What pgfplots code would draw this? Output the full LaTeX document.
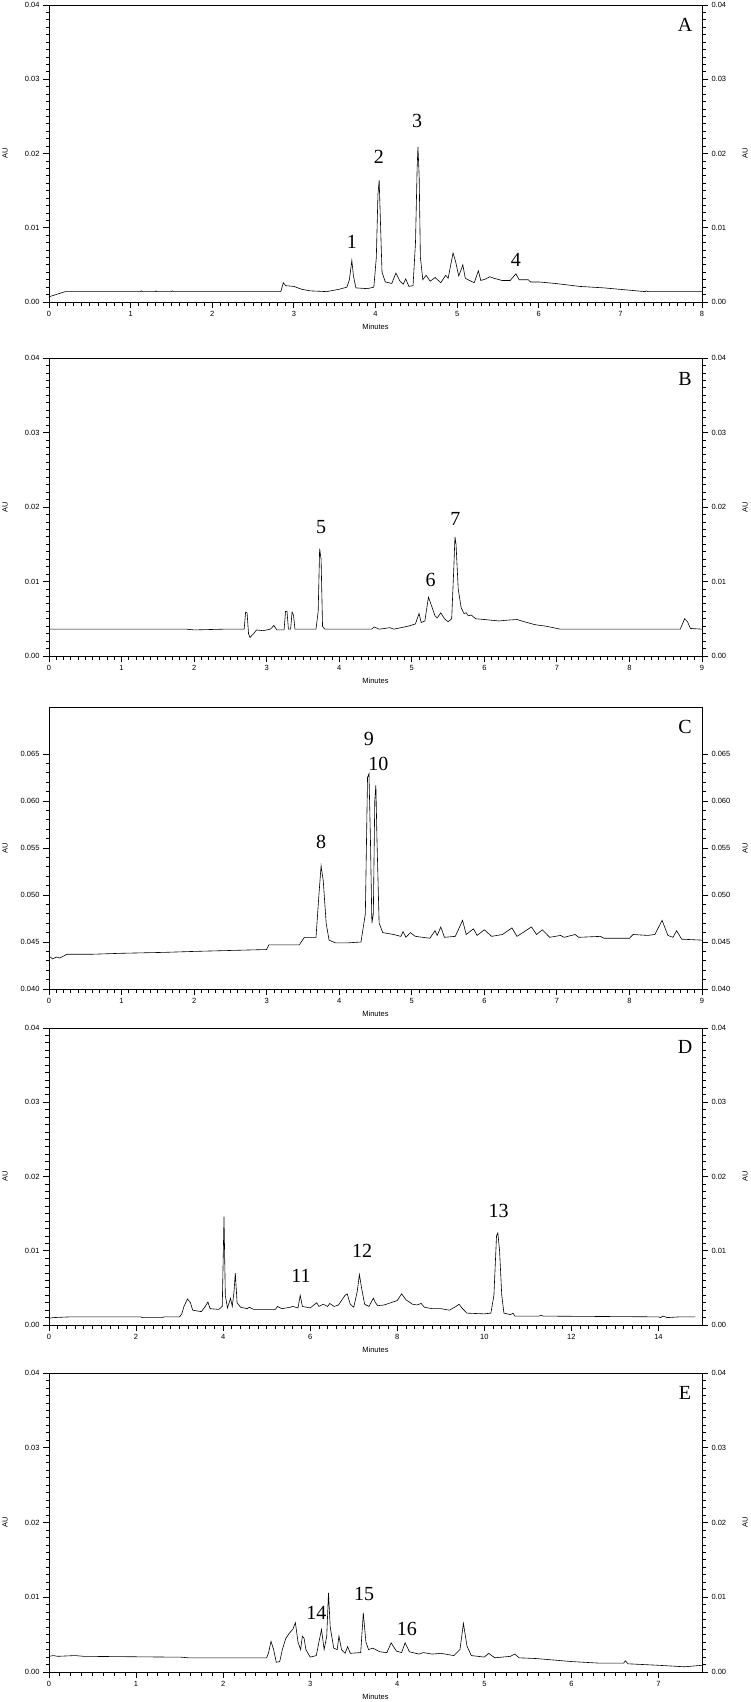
\documentclass[border=0pt]{standalone}
\usepackage{fontspec}
\setmainfont{Liberation Serif}
\setsansfont{Liberation Sans}
\usepackage{pgfplots}
\pgfplotsset{compat=1.18}

\newcommand{\tickfont}{\sffamily\fontsize{7.5}{8}\selectfont}
\newcommand{\peakfont}{\rmfamily\fontsize{20}{22}\selectfont}

\pgfplotsset{
  chrom/.style={
    scale only axis, width=653pt, anchor=north west,
    xmin=0, scaled ticks=false, clip=false,
    axis line style={line width=0.9pt},
    tick align=outside, major tick length=6pt, minor tick length=3.5pt,
    every tick/.style={black, line width=0.8pt},
    tick label style={font=\tickfont},
    /pgf/number format/assume math mode=true,
    yticklabel style={/pgf/number format/.cd, fixed, fixed zerofill, precision=2},
    label style={font=\tickfont},
  },
  leftside/.style={
    xtick pos=left, ytick pos=left,
    xlabel=Minutes, ylabel=AU,
    xlabel style={at={(axis description cs:0.5,0)}, anchor=center, yshift=-25pt},
    ylabel style={at={(axis description cs:-0.0674,0.5)}, anchor=center},
  },
  rightside/.style={
    axis x line=none, axis y line*=right, ytick pos=right,
    yticklabel pos=right, ylabel=AU,
    ylabel style={at={(axis description cs:1.066,0.5)}, anchor=center},
  },
  trace/.style={black, line width=0.6pt, no marks},
}

\begin{document}
\begin{tikzpicture}
\useasboundingbox (0,0) rectangle (750pt,-1702pt);

% ---------------- A ----------------
\begin{axis}[chrom, leftside, at={(49pt,-5pt)}, height=297pt,
  xmax=8, ymin=0, ymax=0.04, xtick={0,...,8}, minor x tick num=9,
  ytick={0,0.01,0.02,0.03,0.04}, minor y tick num=9]
\addplot[trace] table {
0 0.0007
0.2 0.0014
1.12 0.0014
1.13 0.0015
1.14 0.0014
1.3 0.0014
1.31 0.0015
1.32 0.0014
1.5 0.0014
1.51 0.0015
1.52 0.0014
2.84 0.0014
2.87 0.0026
2.9 0.0022
3.0 0.0021
3.1 0.0017
3.2 0.0015
3.4 0.0014
3.55 0.0017
3.65 0.0020
3.68 0.0030
3.71 0.0056
3.73 0.0035
3.76 0.0019
3.9 0.0018
3.98 0.0020
4.01 0.0060
4.03 0.0145
4.045 0.0164
4.06 0.0110
4.08 0.0040
4.12 0.0027
4.2 0.0025
4.25 0.0039
4.3 0.0028
4.34 0.0024
4.37 0.0031
4.41 0.0021
4.46 0.0022
4.49 0.0080
4.51 0.0180
4.52 0.0209
4.535 0.0170
4.55 0.0060
4.58 0.0030
4.62 0.0036
4.67 0.0028
4.73 0.0033
4.8 0.0026
4.86 0.0036
4.89 0.0032
4.95 0.0066
4.98 0.0055
5.02 0.0035
5.07 0.0050
5.1 0.0032
5.17 0.0028
5.21 0.0026
5.26 0.0042
5.29 0.0029
5.35 0.0031
5.4 0.0034
5.45 0.0032
5.55 0.0029
5.65 0.0029
5.72 0.0038
5.76 0.0030
5.87 0.0030
5.9 0.0027
6.0 0.0027
6.2 0.0025
6.5 0.0021
6.8 0.0019
7.0 0.0017
7.3 0.0014
7.32 0.0015
7.34 0.0014
8.0 0.0014
};
\node[font=\peakfont] at (axis cs:3.71,0.0081) {1};
\node[font=\peakfont] at (axis cs:4.04,0.0196) {2};
\node[font=\peakfont] at (axis cs:4.51,0.0244) {3};
\node[font=\peakfont] at (axis cs:5.72,0.0057) {4};
\node[font=\peakfont] at (rel axis cs:0.974,1) [yshift=-20pt] {A};
\end{axis}
\begin{axis}[chrom, rightside, at={(49pt,-5pt)}, height=297pt,
  xmax=8, ymin=0, ymax=0.04,
  ytick={0,0.01,0.02,0.03,0.04}, minor y tick num=9]
\end{axis}

% ---------------- B ----------------
\begin{axis}[chrom, leftside, at={(49pt,-358pt)}, height=298pt,
  xmax=9, ymin=0, ymax=0.04, xtick={0,...,9}, minor x tick num=9,
  ytick={0,0.01,0.02,0.03,0.04}, minor y tick num=9]
\addplot[trace] table {
0 0.0036
0.2 0.0036
1.9 0.0036
2.0 0.0035
2.4 0.0036
2.69 0.0036
2.71 0.0059
2.73 0.0058
2.75 0.0030
2.77 0.0025
2.82 0.0030
2.86 0.0035
2.95 0.0034
3.05 0.0036
3.1 0.0041
3.14 0.0035
3.24 0.0035
3.26 0.0060
3.28 0.0060
3.30 0.0036
3.33 0.0036
3.35 0.0059
3.37 0.0055
3.39 0.0036
3.68 0.0036
3.71 0.0060
3.73 0.0144
3.75 0.0130
3.77 0.0040
3.8 0.0036
4.45 0.0036
4.48 0.0039
4.55 0.0036
4.7 0.0038
4.75 0.0036
4.95 0.0040
5.05 0.0043
5.1 0.0057
5.13 0.0045
5.18 0.0047
5.23 0.0079
5.27 0.0068
5.32 0.0054
5.35 0.0051
5.4 0.0058
5.45 0.0050
5.5 0.0046
5.55 0.0050
5.58 0.0120
5.595 0.0160
5.61 0.0150
5.64 0.0090
5.68 0.0065
5.72 0.0057
5.75 0.0058
5.78 0.0054
5.82 0.0055
5.88 0.0050
6.0 0.0049
6.2 0.0047
6.3 0.0048
6.45 0.0049
6.55 0.0046
6.7 0.0042
6.85 0.0040
7.05 0.0036
8.7 0.0036
8.76 0.0050
8.8 0.0046
8.84 0.0037
9.0 0.0036
};
\node[font=\peakfont] at (axis cs:3.75,0.0173) {5};
\node[font=\peakfont] at (axis cs:5.26,0.0102) {6};
\node[font=\peakfont] at (axis cs:5.60,0.0184) {7};
\node[font=\peakfont] at (rel axis cs:0.974,1) [yshift=-21pt] {B};
\end{axis}
\begin{axis}[chrom, rightside, at={(49pt,-358pt)}, height=298pt,
  xmax=9, ymin=0, ymax=0.04,
  ytick={0,0.01,0.02,0.03,0.04}, minor y tick num=9]
\end{axis}

% ---------------- C ----------------
\begin{axis}[chrom, leftside, at={(49pt,-707pt)}, height=282pt,
  xmax=9, ymin=0.040, ymax=0.070, xtick={0,...,9}, minor x tick num=9,
  ytick={0.040,0.045,0.050,0.055,0.060,0.065}, minor y tick num=4,
  yticklabel style={/pgf/number format/precision=3}]
\addplot[trace] table {
0 0.0435
0.05 0.0432
0.1 0.0434
0.15 0.0433
0.25 0.0437
0.6 0.0437
1.0 0.0438
1.6 0.0439
2.0 0.0440
2.5 0.0441
3.0 0.0442
3.03 0.0447
3.45 0.0447
3.52 0.0455
3.68 0.0455
3.72 0.0500
3.75 0.0531
3.78 0.0515
3.82 0.0470
3.86 0.0452
3.95 0.0449
4.1 0.0449
4.3 0.0450
4.36 0.0480
4.39 0.0625
4.41 0.0629
4.43 0.0560
4.45 0.0470
4.47 0.0480
4.49 0.0600
4.505 0.0617
4.52 0.0560
4.55 0.0470
4.6 0.0460
4.75 0.0458
4.85 0.0456
4.88 0.0461
4.92 0.0455
4.98 0.0460
5.05 0.0456
5.25 0.0454
5.32 0.0462
5.35 0.0457
5.4 0.0466
5.45 0.0455
5.6 0.0456
5.7 0.0473
5.75 0.0458
5.85 0.0464
5.9 0.0457
6.0 0.0463
6.1 0.0456
6.25 0.0458
6.38 0.0465
6.45 0.0456
6.65 0.0466
6.72 0.0458
6.8 0.0463
6.9 0.0455
7.05 0.0457
7.1 0.0455
7.25 0.0458
7.3 0.0455
7.6 0.0456
7.65 0.0454
8.0 0.0454
8.05 0.0458
8.25 0.0457
8.35 0.0458
8.45 0.0473
8.53 0.0457
8.6 0.0455
8.65 0.0462
8.72 0.0453
9.0 0.0452
};
\node[font=\peakfont] at (axis cs:3.75,0.0556) {8};
\node[font=\peakfont] at (axis cs:4.41,0.0666) {9};
\node[font=\peakfont] at (axis cs:4.54,0.0639) {10};
\node[font=\peakfont] at (rel axis cs:0.974,1) [yshift=-20pt] {C};
\end{axis}
\begin{axis}[chrom, rightside, at={(49pt,-707pt)}, height=282pt,
  xmax=9, ymin=0.040, ymax=0.070,
  ytick={0.040,0.045,0.050,0.055,0.060,0.065}, minor y tick num=4,
  yticklabel style={/pgf/number format/precision=3}]
\end{axis}

% ---------------- D ----------------
\begin{axis}[chrom, leftside, at={(49pt,-1028pt)}, height=297pt,
  xmax=15, ymin=0, ymax=0.04, xtick={0,2,...,14}, minor x tick num=9,
  ytick={0,0.01,0.02,0.03,0.04}, minor y tick num=9]
\addplot[trace] table {
0 0.0009
0.1 0.0010
0.5 0.0011
2.1 0.0011
2.15 0.0010
2.6 0.0010
2.65 0.0011
3.0 0.0011
3.05 0.0015
3.1 0.0025
3.18 0.0035
3.25 0.0030
3.3 0.0020
3.5 0.0018
3.6 0.0026
3.65 0.0031
3.7 0.0022
3.9 0.0021
3.98 0.0025
4.02 0.0146
4.05 0.0040
4.1 0.0023
4.17 0.0036
4.21 0.0025
4.25 0.0045
4.28 0.0070
4.32 0.0030
4.4 0.0024
4.55 0.0022
4.6 0.0024
4.7 0.0021
5.2 0.0021
5.25 0.0025
5.35 0.0022
5.55 0.0024
5.6 0.0025
5.72 0.0023
5.77 0.0040
5.82 0.0025
6.0 0.0023
6.15 0.0030
6.2 0.0025
6.3 0.0028
6.4 0.0025
6.45 0.0029
6.55 0.0025
6.65 0.0027
6.8 0.0040
6.85 0.0042
6.92 0.0028
7.0 0.0024
7.08 0.0045
7.13 0.0068
7.18 0.0050
7.25 0.0028
7.35 0.0025
7.45 0.0036
7.5 0.0030
7.55 0.0026
7.7 0.0027
7.85 0.0030
8.0 0.0033
8.1 0.0042
8.2 0.0034
8.35 0.0028
8.45 0.0027
8.55 0.0029
8.62 0.0024
8.8 0.0022
9.0 0.0022
9.2 0.0020
9.35 0.0025
9.42 0.0028
9.5 0.0022
9.6 0.0016
10.0 0.0015
10.15 0.0016
10.22 0.0040
10.28 0.0120
10.31 0.0124
10.35 0.0100
10.4 0.0040
10.45 0.0016
10.6 0.0014
10.66 0.0016
10.7 0.0012
11.25 0.0012
11.3 0.0013
11.35 0.0012
13.9 0.0011
14.0 0.0011
14.05 0.0010
14.1 0.0012
14.2 0.0010
14.5 0.0011
14.85 0.0011
};
\node[font=\peakfont] at (axis cs:5.79,0.0066) {11};
\node[font=\peakfont] at (axis cs:7.19,0.0100) {12};
\node[font=\peakfont] at (axis cs:10.33,0.0154) {13};
\node[font=\peakfont] at (rel axis cs:0.974,1) [yshift=-19pt] {D};
\end{axis}
\begin{axis}[chrom, rightside, at={(49pt,-1028pt)}, height=297pt,
  xmax=15, ymin=0, ymax=0.04,
  ytick={0,0.01,0.02,0.03,0.04}, minor y tick num=9]
\end{axis}

% ---------------- E ----------------
\begin{axis}[chrom, leftside, at={(49pt,-1373pt)}, height=299pt,
  xmax=7.5, ymin=0, ymax=0.04, xtick={0,...,7}, minor x tick num=7,
  ytick={0,0.01,0.02,0.03,0.04}, minor y tick num=9]
\addplot[trace] table {
0 0.0021
0.05 0.0022
0.1 0.0021
0.3 0.0022
0.4 0.0021
1.35 0.0020
1.5 0.0020
1.6 0.0019
2.2 0.0019
2.5 0.0019
2.52 0.0025
2.55 0.0041
2.58 0.0030
2.61 0.0013
2.65 0.0014
2.68 0.0030
2.72 0.0045
2.76 0.0052
2.8 0.0057
2.83 0.0066
2.86 0.0040
2.89 0.0030
2.91 0.0048
2.93 0.0045
2.95 0.0030
3.0 0.0020
3.07 0.0022
3.1 0.0040
3.13 0.0057
3.16 0.0030
3.19 0.0048
3.21 0.0106
3.23 0.0060
3.27 0.0032
3.31 0.0030
3.33 0.0048
3.36 0.0030
3.4 0.0025
3.43 0.0034
3.46 0.0025
3.58 0.0026
3.61 0.0079
3.64 0.0040
3.67 0.0030
3.72 0.0032
3.8 0.0027
3.88 0.0026
3.93 0.0039
3.99 0.0028
4.05 0.0026
4.09 0.0039
4.14 0.0027
4.25 0.0024
4.3 0.0026
4.4 0.0024
4.5 0.0025
4.65 0.0022
4.72 0.0030
4.76 0.0065
4.8 0.0035
4.85 0.0022
5.0 0.0020
5.05 0.0025
5.12 0.0019
5.3 0.0021
5.35 0.0024
5.4 0.0019
5.6 0.0018
5.8 0.0016
6.0 0.0014
6.3 0.0012
6.6 0.0012
6.62 0.0015
6.65 0.0011
7.0 0.0009
7.3 0.0007
7.5 0.0009
};
\node[font=\peakfont] at (axis cs:3.07,0.0079) {14};
\node[font=\peakfont] at (axis cs:3.62,0.0104) {15};
\node[font=\peakfont] at (axis cs:4.11,0.0057) {16};
\node[font=\peakfont] at (rel axis cs:0.974,1) [yshift=-20pt] {E};
\end{axis}
\begin{axis}[chrom, rightside, at={(49pt,-1373pt)}, height=299pt,
  xmax=7.5, ymin=0, ymax=0.04,
  ytick={0,0.01,0.02,0.03,0.04}, minor y tick num=9]
\end{axis}

\end{tikzpicture}
\end{document}
